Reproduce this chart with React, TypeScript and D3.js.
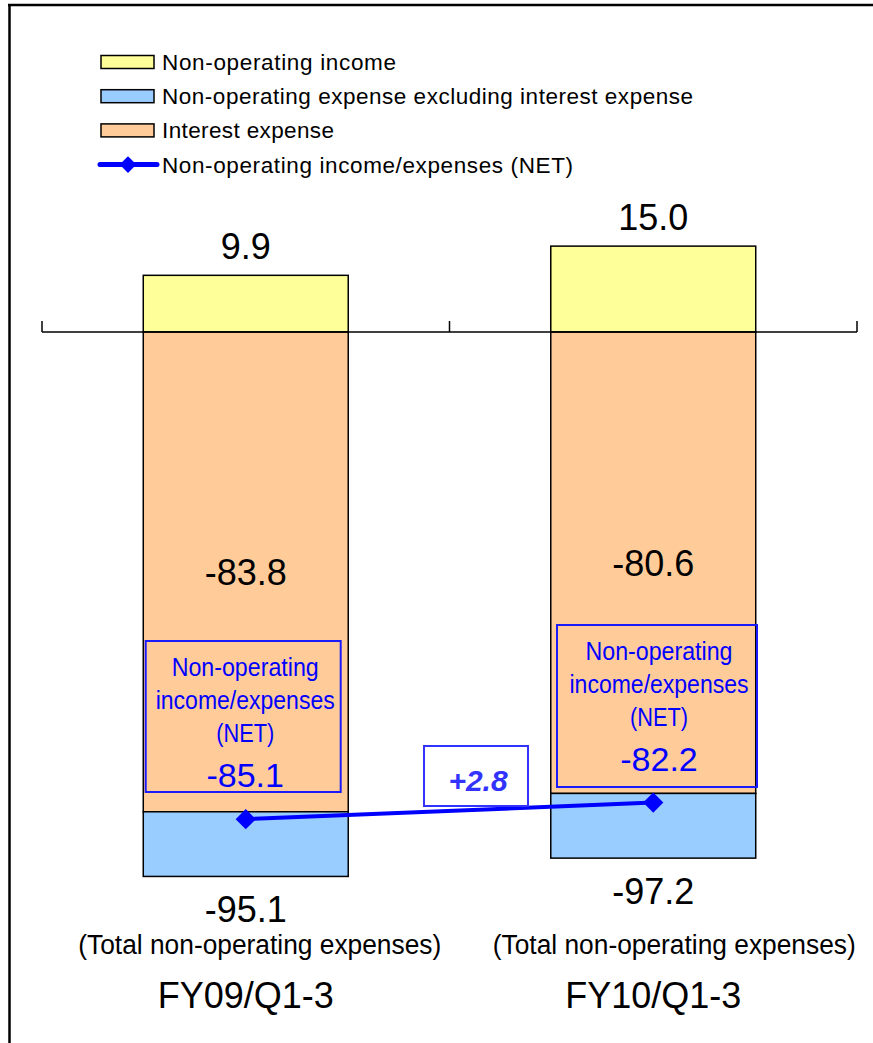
import { useEffect, useRef } from "react";
import * as d3 from "d3";

// values
const categories = ["FY09/Q1-3", "FY10/Q1-3"];
const nonOperatingIncome = [9.9, 15.0];
const interestExpense = [-83.8, -80.6];
const otherExpense = [-11.3, -11.3];
const netIncomeExpense = [-85.1, -82.2];
const totalExpense = [-95.1, -97.2];
const netChangeLabel = "+2.8";
const totalCaption = "(Total non-operating expenses)";
const netBoxLines = ["Non-operating", "income/expenses", "(NET)"];

const seriesKeys = ["income", "interest", "other"];
const seriesNames = [
  "Non-operating income",
  "Non-operating expense excluding interest expense",
  "Interest expense",
  "Non-operating income/expenses (NET)",
];
const seriesColors: Record<string, string> = {
  income: "#FFFF99",
  other: "#99CCFF",
  interest: "#FFCC99",
};

const FONT = "'Liberation Sans', Arial, Helvetica, sans-serif";

export default function App() {
  const ref = useRef<SVGSVGElement>(null);

  useEffect(() => {
    if (!ref.current) return;
    const width = 873;
    const height = 1043;
    const svg = d3.select(ref.current);
    svg.selectAll("*").remove();

    const x = d3.scaleBand().domain(categories).range([42, 857]);
    const barW = x.bandwidth() * 0.503;
    const cx = (c: string) => (x(c) || 0) + x.bandwidth() / 2;
    const pxPerUnit = 5.725;
    const y = d3
      .scaleLinear()
      .domain([-110, 40])
      .range([332 + 110 * pxPerUnit, 332 - 40 * pxPerUnit]);

    const rows = categories.map((c, i) => ({
      cat: c,
      income: nonOperatingIncome[i],
      interest: interestExpense[i],
      other: otherExpense[i],
    }));
    const stacked = d3
      .stack<any>()
      .keys(seriesKeys)
      .offset(d3.stackOffsetDiverging)(rows);

    // frame
    svg.append("line").attr("x1", 9.5).attr("x2", 9.5).attr("y1", 4).attr("y2", height)
      .attr("stroke", "#000").attr("stroke-width", 2.5);
    svg.append("line").attr("x1", 8).attr("x2", width).attr("y1", 5).attr("y2", 5)
      .attr("stroke", "#000").attr("stroke-width", 2.5);

    // legend
    const legend = svg.append("g").attr("font-family", FONT).attr("font-size", 22.5);
    const legendRows = [
      { name: seriesNames[0], color: seriesColors.income, w: 234 },
      { name: seriesNames[1], color: seriesColors.other, w: 531 },
      { name: seriesNames[2], color: seriesColors.interest, w: 172 },
    ];
    legendRows.forEach((d, i) => {
      const ly = 62 + i * 34.2;
      legend.append("rect").attr("x", 101).attr("y", ly - 6.5).attr("width", 53).attr("height", 13)
        .attr("fill", d.color).attr("stroke", "#000").attr("stroke-width", 1.5);
      legend.append("text").attr("x", 162).attr("y", ly + 8).attr("fill", "#000")
        .attr("textLength", d.w).attr("lengthAdjust", "spacing").text(d.name);
    });
    const ly4 = 62 + 3 * 34.2;
    legend.append("line").attr("x1", 100).attr("x2", 157).attr("y1", ly4).attr("y2", ly4)
      .attr("stroke", "#0000FF").attr("stroke-width", 5).attr("stroke-linecap", "round");
    legend.append("path").attr("d", d3.symbol(d3.symbolDiamond2, 180)())
      .attr("transform", `translate(128,${ly4})`).attr("fill", "#0000FF");
    legend.append("text").attr("x", 162).attr("y", ly4 + 8).attr("fill", "#000")
      .attr("textLength", 411).attr("lengthAdjust", "spacing").text(seriesNames[3]);

    // bars
    const bars = svg.append("g");
    stacked.forEach((layer) => {
      bars.selectAll(null)
        .data(layer)
        .enter()
        .append("rect")
        .attr("x", (d: any) => cx(d.data.cat) - barW / 2)
        .attr("width", barW)
        .attr("y", (d: any) => y(Math.max(d[0], d[1])))
        .attr("height", (d: any) => Math.abs(y(d[0]) - y(d[1])))
        .attr("fill", seriesColors[layer.key])
        .attr("stroke", "#000")
        .attr("stroke-width", 1.5);
    });

    // category axis at zero
    const axis = svg.append("g");
    axis.append("line").attr("x1", 42).attr("x2", 857).attr("y1", y(0)).attr("y2", y(0))
      .attr("stroke", "#000").attr("stroke-width", 1.5);
    const tickXs = [...categories.map((c) => x(c) || 0), 857];
    axis.selectAll(null).data(tickXs).enter().append("line")
      .attr("x1", (d) => d).attr("x2", (d) => d)
      .attr("y1", y(0)).attr("y2", y(0) - 11)
      .attr("stroke", "#000").attr("stroke-width", 1.5);

    const labels = svg.append("g").attr("font-family", FONT).attr("text-anchor", "middle").attr("fill", "#000");

    // income labels above bars
    labels.selectAll(null).data(categories).enter().append("text")
      .attr("x", (c) => cx(c))
      .attr("y", (c, i) => y(nonOperatingIncome[i]) - 29 + 13)
      .attr("font-size", 36)
      .text((c, i) => nonOperatingIncome[i].toFixed(1));

    // interest labels centred in segment
    labels.selectAll(null).data(categories).enter().append("text")
      .attr("x", (c) => cx(c))
      .attr("y", (c, i) => y(interestExpense[i] / 2) + 13)
      .attr("font-size", 36)
      .text((c, i) => interestExpense[i].toFixed(1));

    // total labels below bars
    labels.selectAll(null).data(categories).enter().append("text")
      .attr("x", (c) => cx(c))
      .attr("y", (c, i) => y(interestExpense[i] + otherExpense[i]) + 33 + 13)
      .attr("font-size", 36)
      .text((c, i) => totalExpense[i].toFixed(1));

    // category labels
    const captionShift = [14, 21];
    labels.selectAll(null).data(categories).enter().append("text")
      .attr("x", (c, i) => cx(c) + captionShift[i])
      .attr("y", 944 + 10)
      .attr("font-size", 27)
      .attr("textLength", 363)
      .attr("lengthAdjust", "spacingAndGlyphs")
      .text(totalCaption);
    labels.selectAll(null).data(categories).enter().append("text")
      .attr("x", (c) => cx(c))
      .attr("y", 995 + 13)
      .attr("font-size", 36)
      .text((c) => c);

    // NET annotation boxes
    const boxes = [
      { x: 145.7, y: 641, w: 195, h: 151 },
      { x: 557, y: 625, w: 200, h: 162 },
    ];
    const netG = svg.append("g").attr("font-family", FONT).attr("text-anchor", "middle");
    boxes.forEach((b, i) => {
      netG.append("rect").attr("x", b.x).attr("y", b.y).attr("width", b.w).attr("height", b.h)
        .attr("fill", "none").attr("stroke", "#1a1aff").attr("stroke-width", 2);
      const tx = b.x + b.w / 2 + 2;
      const widths = [147, 179, 58];
      netBoxLines.forEach((line, j) => {
        netG.append("text").attr("x", tx).attr("y", b.y + 26 + j * 33 + 9)
          .attr("font-size", 25).attr("fill", "#0000FF")
          .attr("textLength", widths[j]).attr("lengthAdjust", "spacingAndGlyphs")
          .text(line);
      });
      netG.append("text").attr("x", tx).attr("y", b.y + 134 + 12)
        .attr("font-size", 34).attr("fill", "#0000FF")
        .text(netIncomeExpense[i].toFixed(1));
    });

    // NET line
    const line = d3.line<number>()
      .x((d, i) => cx(categories[i]))
      .y((d) => y(d));
    svg.append("path").datum(netIncomeExpense).attr("d", line)
      .attr("fill", "none").attr("stroke", "#0000FF").attr("stroke-width", 4);
    svg.selectAll(null).data(netIncomeExpense).enter().append("path")
      .attr("d", d3.symbol(d3.symbolDiamond2, 260)())
      .attr("transform", (d, i) => `translate(${cx(categories[i])},${y(d)})`)
      .attr("fill", "#0000FF");

    // change box
    const chg = svg.append("g");
    chg.append("rect").attr("x", 424).attr("y", 746).attr("width", 104).attr("height", 60)
      .attr("fill", "#fff").attr("stroke", "#3333FF").attr("stroke-width", 2);
    chg.append("text").attr("x", 478).attr("y", 780 + 11)
      .attr("text-anchor", "middle").attr("font-family", FONT).attr("font-size", 30)
      .attr("font-weight", "bold").attr("font-style", "italic").attr("fill", "#3333FF")
      .text(netChangeLabel);
  }, []);

  return (
    <div style={{ position: "absolute", left: 0, top: 0 }}>
      <svg ref={ref} width={873} height={1043} style={{ display: "block", background: "#fff" }} />
    </div>
  );
}
